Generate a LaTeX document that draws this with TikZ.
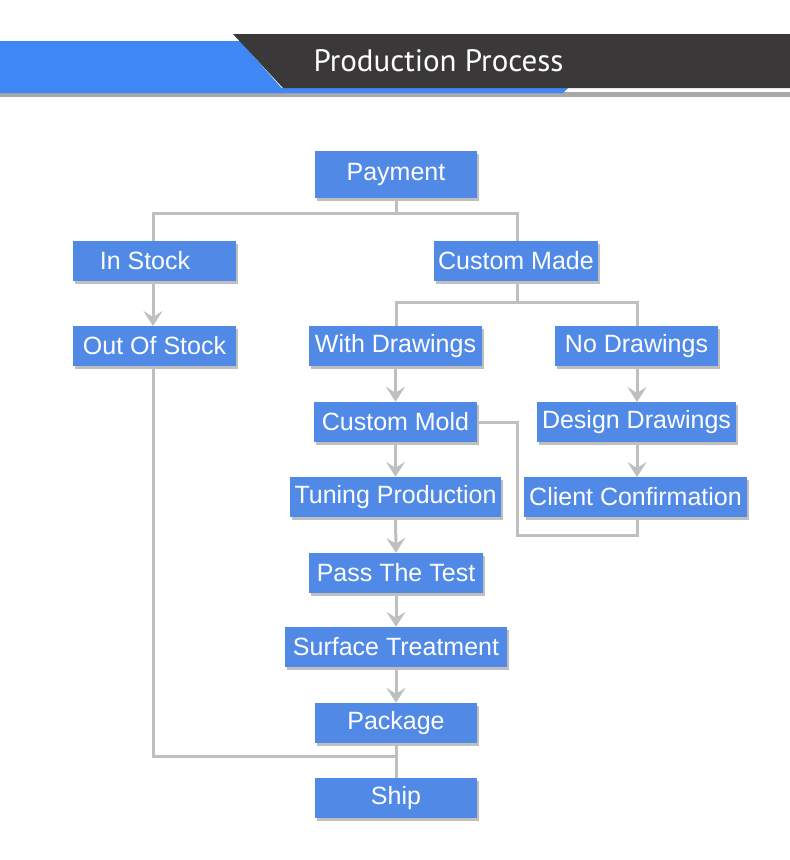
\documentclass[tikz,border=0pt]{standalone}
\usepackage{fontspec}
\setmainfont{Liberation Sans}
\newfontfamily\titlefont{PT Sans}
\usetikzlibrary{arrows.meta,shadows,calc}
\definecolor{boxblue}{HTML}{5089E6}
\definecolor{bandblue}{HTML}{3F87F5}
\definecolor{banddark}{HTML}{3A3839}
\definecolor{linegray}{HTML}{BFBFBF}
\definecolor{shadowgray}{HTML}{A8A8A8}
\tikzset{
  stepbox/.style={rectangle, fill=boxblue, inner sep=0pt, text=white,
    font=\fontsize{25}{28}\selectfont,
    drop shadow={shadow xshift=1.5pt, shadow yshift=-2.5pt, opacity=0.25, fill=black}},
  conn/.style={draw=linegray, line width=3pt},
  arr/.style={conn, -{Stealth[length=15pt,width=19pt,inset=6pt]}},
}
\begin{document}
\begin{tikzpicture}[x=1pt,y=-1pt]
\useasboundingbox (0,0) rectangle (790,860);
% header
\fill[shadowgray] (0,92) -- (790,92) -- (790,97) -- (0,97) -- cycle;
\fill[bandblue] (0,41) -- (240,41) -- (286,93) -- (0,93) -- cycle;
\fill[bandblue] (270,88) -- (568,88) -- (563,93) -- (270,93) -- cycle;
\fill[banddark] (233,34) -- (790,34) -- (790,88) -- (283,88) -- cycle;
\node[text=white, font=\titlefont\fontsize{31}{34}\selectfont, anchor=center] (title) at (438.5,61) {Production Process};
% nodes
\node[stepbox, minimum width=162pt, minimum height=47pt] (pay) at (396,174.5) {Payment};
\node[stepbox, minimum width=163pt, minimum height=40pt] (instock) at (154.5,261) {In Stock\kern19pt};
\node[stepbox, minimum width=164pt, minimum height=40pt] (custom) at (516,261) {Custom Made};
\node[stepbox, minimum width=163pt, minimum height=40pt] (outstock) at (154.5,346) {Out Of Stock};
\node[stepbox, minimum width=173pt, minimum height=40pt] (withd) at (395.5,346) {With Drawings};
\node[stepbox, minimum width=163pt, minimum height=40pt] (nod) at (636.5,346) {No Drawings};
\node[stepbox, minimum width=163pt, minimum height=40pt] (mold) at (395.5,422) {Custom Mold};
\node[stepbox, minimum width=199pt, minimum height=40pt] (design) at (636.5,422) {Design Drawings};
\node[stepbox, minimum width=211pt, minimum height=40pt] (tuning) at (395.5,497) {Tuning Production};
\node[stepbox, minimum width=223pt, minimum height=40pt] (client) at (635.5,497) {Client Confirmation};
\node[stepbox, minimum width=174pt, minimum height=40pt] (pass) at (396,573) {Pass The Test};
\node[stepbox, minimum width=222pt, minimum height=40pt] (surface) at (396,647) {Surface Treatment};
\node[stepbox, minimum width=162pt, minimum height=40pt] (package) at (396,723) {Package};
\node[stepbox, minimum width=162pt, minimum height=40pt] (ship) at (396,798) {Ship};
% connectors
\coordinate (j1) at (396,756);
\draw[conn] (pay.south) -- (396,213) coordinate (p1);
\draw[conn] (153,241) |- (p1) -| (517,241);
\draw[arr] (153,281) -- (153,326);
\draw[conn] (517,281) -- (517,302) coordinate (p2);
\draw[conn] (396,326) |- (p2) -| (637,326);
\draw[arr] (withd.south) -- (mold.north);
\draw[arr] (637,366) -- (637,402);
\draw[arr] (637,442) -- (637,477);
\draw[conn] (mold.east) -| (517,535) -| (637,517);
\draw[arr] (mold.south) -- (tuning.north);
\draw[arr] (tuning.south) -- (pass.north);
\draw[arr] (pass.south) -- (surface.north);
\draw[arr] (surface.south) -- (package.north);
\draw[conn] (package.south) -- (ship.north);
\draw[conn] (153,366) |- (j1);
\end{tikzpicture}
\end{document}
